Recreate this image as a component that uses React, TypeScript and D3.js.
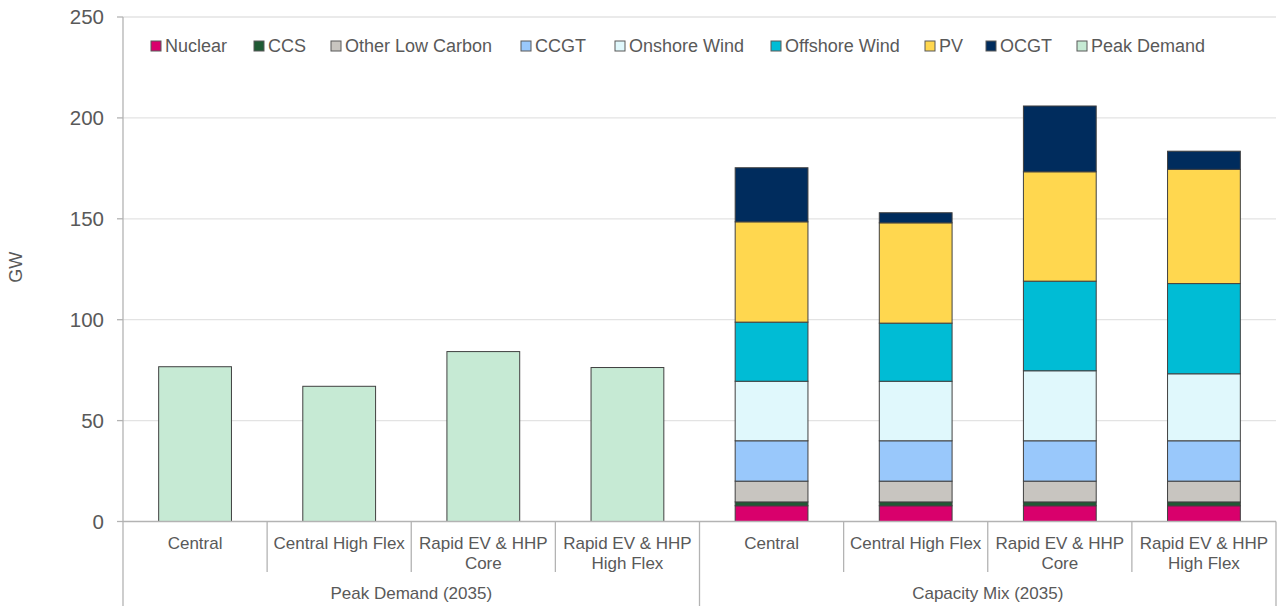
import React from "react";
import * as d3 from "d3";

const groups = ["Peak Demand (2035)", "Capacity Mix (2035)"];
const scenarios = ["Central", "Central High Flex", "Rapid EV & HHP Core", "Rapid EV & HHP High Flex"];
const scenarioLines = [["Central"], ["Central High Flex"], ["Rapid EV & HHP", "Core"], ["Rapid EV & HHP", "High Flex"]];

const seriesNames = ["Nuclear", "CCS", "Other Low Carbon", "CCGT", "Onshore Wind", "Offshore Wind", "PV", "OCGT"];
const nuclear = [7.8, 7.8, 7.8, 7.8];
const ccs = [1.9, 1.9, 1.9, 1.9];
const otherLowCarbon = [10.3, 10.3, 10.3, 10.3];
const ccgt = [20, 20, 20, 20];
const onshoreWind = [29.5, 29.5, 34.7, 33.2];
const offshoreWind = [29.3, 28.8, 44.4, 44.7];
const pv = [49.7, 49.7, 54.2, 56.6];
const ocgt = [26.8, 5.0, 32.6, 9.0];
const peakDemand = [76.7, 67.0, 84.2, 76.3];

const yTicks = [0, 50, 100, 150, 200, 250];

const seriesColors = ["#d9006c", "#1f5a34", "#c8c5c0", "#99c8fb", "#e0f8fc", "#00bcd5", "#ffd74f", "#002c5d"];
const peakColor = "#c6ead4";

const W = 1277;
const H = 606;
const left = 123;
const right = 1276;
const top = 17;
const bottom = 521.5;
const font = "'Liberation Sans', Arial, sans-serif";
const textColor = "#595959";
const axisColor = "#b3b3b3";
const gridColor = "#e3e3e3";
const legendX = [151, 254, 331, 521, 615, 771, 925, 986, 1077];

export default function App() {
  const keys: string[] = [];
  groups.forEach((g) => scenarios.forEach((s) => keys.push(`${g}|${s}`)));
  const x = d3.scaleBand<string>().domain(keys).range([left, right]).paddingInner(0).paddingOuter(0);
  const y = d3.scaleLinear().domain([0, 250]).range([bottom, top]);
  const bw = x.bandwidth();
  const barW = bw * 0.505;

  const valuesBySeries = [nuclear, ccs, otherLowCarbon, ccgt, onshoreWind, offshoreWind, pv, ocgt];
  const rows = scenarios.map((s, i) => {
    const r: any = { scenario: s };
    seriesNames.forEach((n, k) => (r[n] = valuesBySeries[k][i]));
    return r;
  });
  const stacked = d3.stack<any>().keys(seriesNames)(rows);

  const legendItems = [...seriesNames.map((n, i) => ({ name: n, color: seriesColors[i] })), { name: "Peak Demand", color: peakColor }];

  return (
    <svg width={W} height={H} style={{ position: "absolute", left: 0, top: 0, background: "#fff" }} fontFamily={font}>
      {/* gridlines */}
      {yTicks.filter((t) => t > 0).map((t) => (
        <line key={t} x1={left} x2={right} y1={y(t)} y2={y(t)} stroke={gridColor} strokeWidth={1.3} />
      ))}
      {/* y ticks */}
      {yTicks.map((t) => (
        <g key={t}>
          <line x1={left - 6} x2={left} y1={y(t)} y2={y(t)} stroke={axisColor} strokeWidth={1.3} />
          <text x={104} y={y(t)} dy="0.35em" textAnchor="end" fontSize={20.5} fill={textColor}>{t}</text>
        </g>
      ))}
      <text transform={`translate(22,${(top + bottom) / 2 - 2}) rotate(-90)`} textAnchor="middle" fontSize={18} fill={textColor}>GW</text>

      {/* peak demand bars */}
      {scenarios.map((s, i) => {
        const cx = (x(`${groups[0]}|${s}`) as number) + bw / 2;
        return (
          <rect key={s} x={cx - barW / 2} y={y(peakDemand[i])} width={barW} height={y(0) - y(peakDemand[i])} fill={peakColor} stroke="#404040" strokeWidth={1} />
        );
      })}

      {/* capacity stacked bars */}
      {stacked.map((layer, k) => (
        <g key={layer.key}>
          {layer.map((d, i) => {
            const cx = (x(`${groups[1]}|${scenarios[i]}`) as number) + bw / 2;
            return (
              <rect key={i} x={cx - barW / 2} y={y(d[1])} width={barW} height={y(d[0]) - y(d[1])} fill={seriesColors[k]} stroke="#404040" strokeWidth={1} />
            );
          })}
        </g>
      ))}

      {/* axes */}
      <line x1={left} x2={left} y1={top} y2={H} stroke={axisColor} strokeWidth={1.3} />
      <line x1={left} x2={right} y1={bottom} y2={bottom} stroke={axisColor} strokeWidth={1.3} />
      {keys.map((k, i) => {
        const x0 = x(k) as number;
        const isGroupStart = i % scenarios.length === 0;
        return isGroupStart ? null : (
          <line key={k} x1={x0} x2={x0} y1={bottom} y2={572} stroke={axisColor} strokeWidth={1.3} />
        );
      })}
      {groups.map((g) => {
        const x1 = (x(`${g}|${scenarios[scenarios.length - 1]}`) as number) + bw;
        return <line key={g} x1={x1} x2={x1} y1={bottom} y2={H} stroke={axisColor} strokeWidth={1.3} />;
      })}
      {keys.map((k, i) => {
        const lines = scenarioLines[i % scenarios.length];
        const cx = (x(k) as number) + bw / 2;
        return (
          <text key={k} x={cx} y={549} textAnchor="middle" fontSize={17} fill={textColor}>
            {lines.map((l, li) => (
              <tspan key={li} x={cx} dy={li === 0 ? 0 : 20}>{l}</tspan>
            ))}
          </text>
        );
      })}
      {groups.map((g) => {
        const x0 = x(`${g}|${scenarios[0]}`) as number;
        const x1 = (x(`${g}|${scenarios[scenarios.length - 1]}`) as number) + bw;
        return (
          <text key={g} x={(x0 + x1) / 2} y={599} textAnchor="middle" fontSize={17} fill={textColor}>{g}</text>
        );
      })}

      {/* legend */}
      {legendItems.map((it, i) => (
        <g key={it.name} transform={`translate(${legendX[i]},41)`}>
          <rect x={0} y={0} width={10} height={10} fill={it.color} stroke="#595959" strokeWidth={1} />
          <text x={14} y={11} fontSize={18} fill={textColor}>{it.name}</text>
        </g>
      ))}
    </svg>
  );
}
